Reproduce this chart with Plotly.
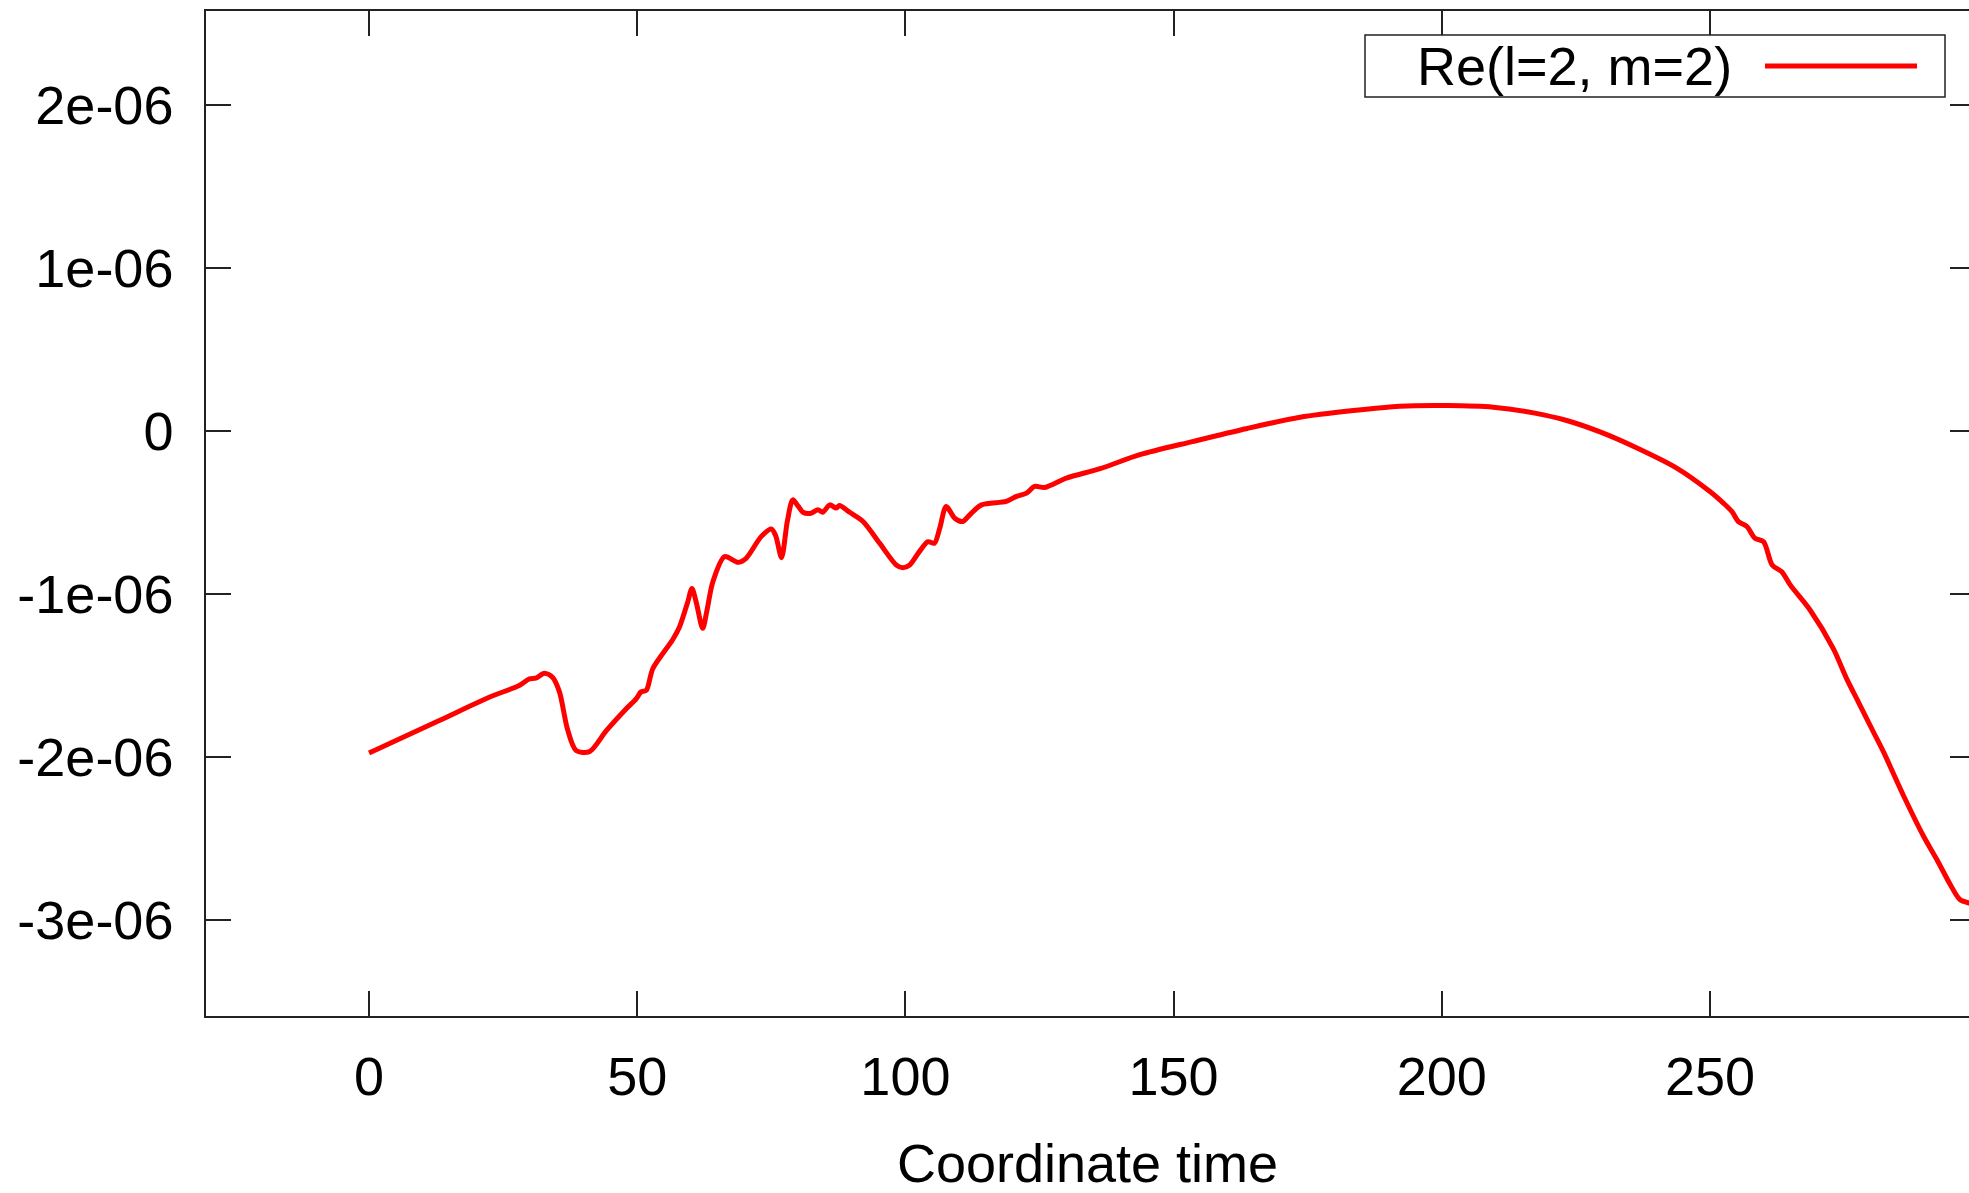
import plotly.graph_objects as go

# ---- data ----
time = [0, 13.1, 22.4, 28.0, 29.9, 31.1, 32.7, 34.2, 35.5, 37.0, 38.6, 41.1, 44.2,
        47.9, 49.8, 50.7, 51.7, 52.9, 56.6, 57.9, 59.4, 60.2, 61.0, 62.2, 63.0,
        64.1, 66.3, 68.8, 70.3, 73.1, 75.0, 75.8, 76.9, 78.0, 79.0, 80.0, 80.9,
        82.4, 83.7, 84.6, 85.9, 87.1, 87.7, 89.6, 92.1, 95.2, 98.3, 99.5, 100.8,
        102.6, 104.2, 105.4, 106.4, 107.6, 109.2, 110.7, 112.0, 114.2, 118.8,
        120.7, 122.6, 124.1, 126.0, 130.0, 136.3, 143.7, 153.7, 163.7, 173.6,
        183.5, 192.2, 201.0, 209.6, 217.1, 223.3, 229.5, 235.7, 243.8, 250.0,
        252.5, 254.1, 255.3, 256.9, 258.4, 260.0, 261.6, 263.4, 265.0, 268.7,
        273.0, 275.5, 277.7, 280.5, 282.4, 286.1, 289.8, 292.3, 294.8, 296.6,
        298.3, 300.0]
re_l2_m2 = [-1.976e-6, -1.776e-6, -1.633e-6, -1.561e-6, -1.520e-6, -1.516e-6,
            -1.485e-6, -1.510e-6, -1.600e-6, -1.830e-6, -1.960e-6, -1.967e-6,
            -1.840e-6, -1.705e-6, -1.643e-6, -1.600e-6, -1.590e-6, -1.458e-6,
            -1.280e-6, -1.200e-6, -1.050e-6, -0.965e-6, -1.050e-6, -1.210e-6,
            -1.100e-6, -0.924e-6, -0.770e-6, -0.805e-6, -0.780e-6, -0.647e-6,
            -0.600e-6, -0.640e-6, -0.776e-6, -0.550e-6, -0.421e-6, -0.460e-6,
            -0.497e-6, -0.503e-6, -0.482e-6, -0.497e-6, -0.452e-6, -0.472e-6,
            -0.456e-6, -0.497e-6, -0.554e-6, -0.688e-6, -0.821e-6, -0.838e-6,
            -0.821e-6, -0.739e-6, -0.678e-6, -0.688e-6, -0.596e-6, -0.462e-6,
            -0.534e-6, -0.554e-6, -0.513e-6, -0.452e-6, -0.431e-6, -0.400e-6,
            -0.380e-6, -0.339e-6, -0.345e-6, -0.288e-6, -0.230e-6, -0.144e-6,
            -0.062e-6, 0.017e-6, 0.086e-6, 0.127e-6, 0.154e-6, 0.158e-6,
            0.148e-6, 0.113e-6, 0.066e-6, -0.004e-6, -0.092e-6, -0.226e-6,
            -0.370e-6, -0.441e-6, -0.493e-6, -0.555e-6, -0.585e-6, -0.657e-6,
            -0.678e-6, -0.821e-6, -0.863e-6, -0.945e-6, -1.099e-6, -1.335e-6,
            -1.520e-6, -1.664e-6, -1.848e-6, -1.972e-6, -2.238e-6, -2.485e-6,
            -2.629e-6, -2.783e-6, -2.875e-6, -2.896e-6, -2.905e-6]

x_ticks = [0, 50, 100, 150, 200, 250]
y_ticks = [2e-6, 1e-6, 0, -1e-6, -2e-6, -3e-6]
y_tick_labels = ["2e-06", "1e-06", "0", "-1e-06", "-2e-06", "-3e-06"]
series_name = "Re(l=2, m=2)"
x_title = "Coordinate time"

FONT = "Liberation Sans, Arial, Helvetica, sans-serif"
AX = "#222222"
RED = "#ff0000"

x_range = [-30.4, 298.3]
y_range = [-3.59e-6, 2.58e-6]

fig = go.Figure()
fig.add_trace(go.Scatter(x=time, y=re_l2_m2, mode="lines", name=series_name,
                         line=dict(color=RED, width=5, shape="spline", smoothing=0.8),
                         showlegend=False))
# invisible trace on the right-hand y axis to carry mirrored ticks
fig.add_trace(go.Scatter(x=[time[0]], y=[re_l2_m2[0]], yaxis="y2", mode="lines",
                         line=dict(width=0), showlegend=False, hoverinfo="skip"))

fig.update_layout(
    width=1969, height=1193,
    margin=dict(l=206, r=0, t=11, b=177, pad=0),
    paper_bgcolor="white", plot_bgcolor="white",
    font=dict(family=FONT, size=54, color="black"),
    xaxis=dict(range=x_range, tickvals=x_ticks, ticks="inside", ticklen=25,
               tickwidth=1.5, tickcolor=AX, showline=True, linecolor=AX,
               linewidth=1.5, mirror="ticks", showgrid=False, zeroline=False,
               ticklabelstandoff=12,
               tickfont=dict(family=FONT, size=54, color="black"),
               title=dict(text=x_title, font=dict(family=FONT, size=54, color="black"),
                          standoff=51)),
    yaxis=dict(range=y_range, tickvals=y_ticks, ticktext=y_tick_labels,
               ticks="inside", ticklen=25, tickwidth=1.5, tickcolor=AX,
               showline=True, linecolor=AX, linewidth=1.5, mirror=False,
               showgrid=False, zeroline=False, ticklabelstandoff=20,
               tickfont=dict(family=FONT, size=54, color="black")),
    yaxis2=dict(range=y_range, tickvals=y_ticks, overlaying="y", side="right",
                ticks="inside", ticklen=19, tickwidth=1.5, tickcolor=AX,
                showline=False, showgrid=False, zeroline=False,
                showticklabels=False),
)

# legend drawn as box + label + line sample (sample on the right, as in the original)
W, H = 1763.0, 1004.7  # plot area size in px
def px_x(X):
    return (X - 206) / W
def px_y(Y):
    return (1015.7 - Y) / H

fig.add_shape(type="rect", xref="paper", yref="paper",
              x0=px_x(1365), x1=px_x(1945), y0=px_y(97), y1=px_y(35),
              line=dict(color=AX, width=1.5), fillcolor="white", layer="above")
fig.add_shape(type="line", xref="paper", yref="paper",
              x0=px_x(1765), x1=px_x(1917), y0=px_y(66), y1=px_y(66),
              line=dict(color=RED, width=5), layer="above")
fig.add_annotation(xref="paper", yref="paper", x=px_x(1734), y=px_y(66),
                   xanchor="right", yanchor="middle", showarrow=False,
                   text=series_name, font=dict(family=FONT, size=54, color="black"))

fig.write_html("out.html")
